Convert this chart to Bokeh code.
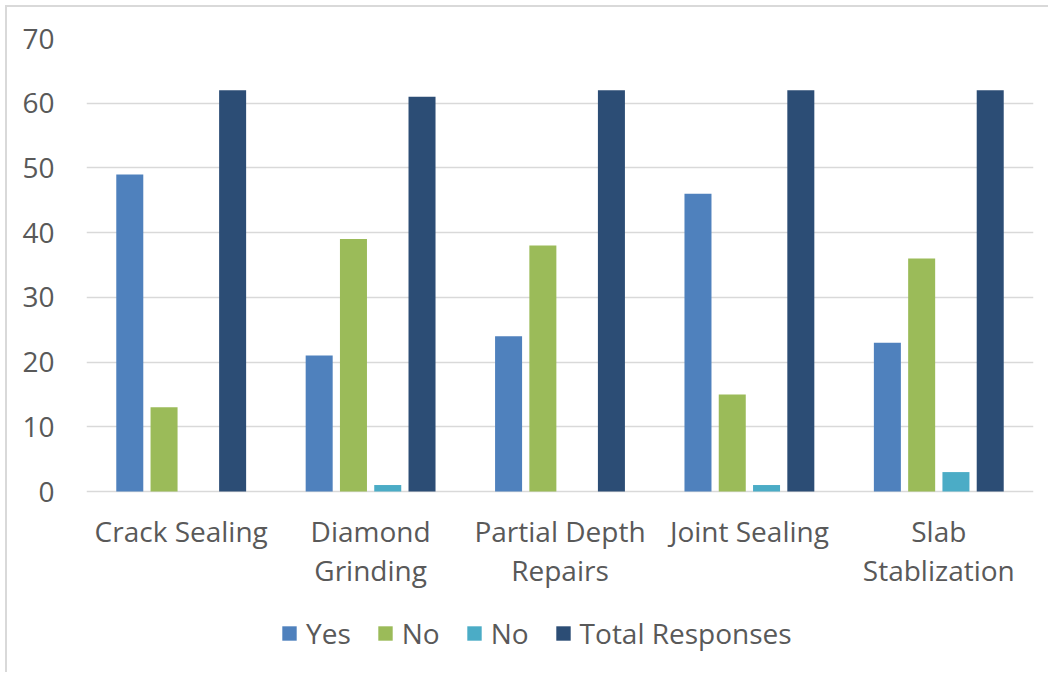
from bokeh.plotting import figure
from bokeh.models import ColumnDataSource, FactorRange, Legend, LegendItem, FixedTicker
from bokeh.core.properties import value
from bokeh.transform import dodge
from bokeh.embed import file_html
from bokeh.resources import INLINE

# Survey responses per treatment
categories = ["Crack Sealing", "Diamond Grinding", "Partial Depth Repairs",
              "Joint Sealing", "Slab Stablization"]
category_labels = ["Crack Sealing", "Diamond\nGrinding", "Partial Depth\nRepairs",
                   "Joint Sealing", "Slab\nStablization"]
yes = [49, 21, 24, 46, 23]
no = [13, 39, 38, 15, 36]
no_other = [0, 1, 0, 1, 3]
total_responses = [62, 61, 62, 62, 62]
series_labels = ["Yes", "No", "No", "Total Responses"]
y_ticks = [0, 10, 20, 30, 40, 50, 60, 70]

series_keys = ["yes", "no", "no_other", "total"]
series_colors = ["#4F81BD", "#9BBB59", "#4BACC6", "#2C4D75"]

source = ColumnDataSource(data=dict(
    cat=categories, yes=yes, no=no, no_other=no_other, total=total_responses))
label_source = ColumnDataSource(data=dict(
    cat=categories, base=[0] * len(categories), text=category_labels))

FONT = "Open Sans"
TEXT = "#595959"
GRID = "#D9D9D9"

# The frame runs down to the bottom edge so that the category names and the
# legend can sit underneath the bars; values below 0 are just empty space.
PX_PER_UNIT = 453 / 70
y_bottom = -183 / PX_PER_UNIT

p = figure(x_range=FactorRange(*categories), y_range=(y_bottom, 70),
           width=1043, height=667, output_backend="svg", toolbar_location=None,
           min_border_left=79, min_border_right=17, min_border_top=31,
           min_border_bottom=0)
p.styles = {"margin-left": "5px", "margin-top": "5px",
            "border-left": "2px solid #D9D9D9", "border-top": "2px solid #D9D9D9"}
p.x_range.range_padding = 0
p.outline_line_color = None
p.background_fill_color = "white"
p.border_fill_color = "white"

step = 0.181
width = 0.1426
offsets = [-1.5 * step, -0.5 * step, 0.5 * step, 1.5 * step]
items = []
for key, color, off, label in zip(series_keys, series_colors, offsets, series_labels):
    r = p.vbar(x=dodge("cat", off, range=p.x_range), top=key, bottom=0, width=width,
               source=source, fill_color=color, line_color=None)
    items.append(LegendItem(label=label, renderers=[r]))

# category names under each group
p.text(x="cat", y="base", text="text", source=label_source, y_offset=20,
       text_align="center", text_baseline="top", text_font=value(FONT),
       text_font_size="28px", text_color=TEXT, text_line_height=1.05)

# grid
p.xgrid.grid_line_color = None
p.ygrid.grid_line_color = GRID
p.ygrid.grid_line_width = 1.5
p.yaxis.ticker = FixedTicker(ticks=y_ticks)

# y axis
p.yaxis.axis_line_color = None
p.yaxis.major_tick_line_color = None
p.yaxis.minor_tick_line_color = None
p.yaxis.major_label_standoff = 26
p.yaxis.major_label_text_font = FONT
p.yaxis.major_label_text_font_size = "28px"
p.yaxis.major_label_text_color = TEXT

p.xaxis.visible = False

legend = Legend(items=items, orientation="horizontal", location=(194, 22),
                label_text_font=FONT, label_text_font_size="28px",
                label_text_color=TEXT, glyph_width=18, glyph_height=18,
                label_standoff=8, spacing=25, border_line_color=None,
                background_fill_alpha=0, margin=0, padding=0)
p.add_layout(legend)

open("out.html", "w").write(file_html(p, INLINE))
